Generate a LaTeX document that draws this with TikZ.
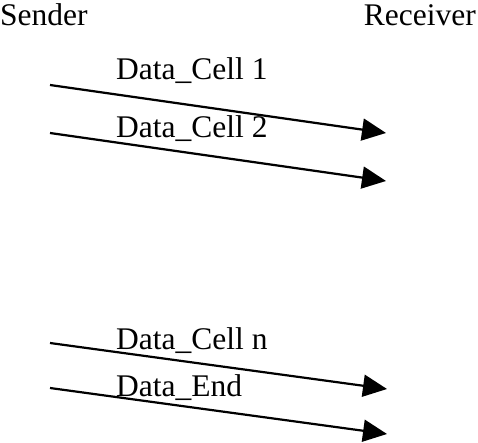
\documentclass[tikz,border=0pt]{standalone}
\usepackage{fontspec}
\setmainfont{Liberation Serif}
\usetikzlibrary{arrows.meta}
\begin{document}
\begin{tikzpicture}[x=1pt,y=-1pt,
  lbl/.style={inner sep=0pt,font=\fontsize{31.5}{36}\selectfont},
  msg/.style={line width=2.2pt,-{Triangle[length=24pt,width=22pt]}}]
\useasboundingbox (0,0) rectangle (478,443);
% end-point labels
\node[lbl,anchor=base west] (sender) at (0,26) {Sender};
\node[lbl,anchor=base east] (receiver) at (476,26) {Receiver};
% message end points
\coordinate (s1) at (50,85);  \coordinate (r1) at (386,133);
\coordinate (s2) at (50,133); \coordinate (r2) at (386,181);
\coordinate (s3) at (50,343); \coordinate (r3) at (387,389);
\coordinate (s4) at (50,388); \coordinate (r4) at (387,434);
% messages
\draw[msg] (s1) -- (r1);
\draw[msg] (s2) -- (r2);
\draw[msg] (s3) -- (r3);
\draw[msg] (s4) -- (r4);
% message labels
\node[lbl,anchor=base west] (m1) at (116,80) {Data\_Cell 1};
\node[lbl,anchor=base west] (m2) at (116,138) {Data\_Cell 2};
\node[lbl,anchor=base west] (m3) at (116,349) {Data\_Cell n};
\node[lbl,anchor=base west] (m4) at (116,396) {Data\_End};
\end{tikzpicture}
\end{document}
